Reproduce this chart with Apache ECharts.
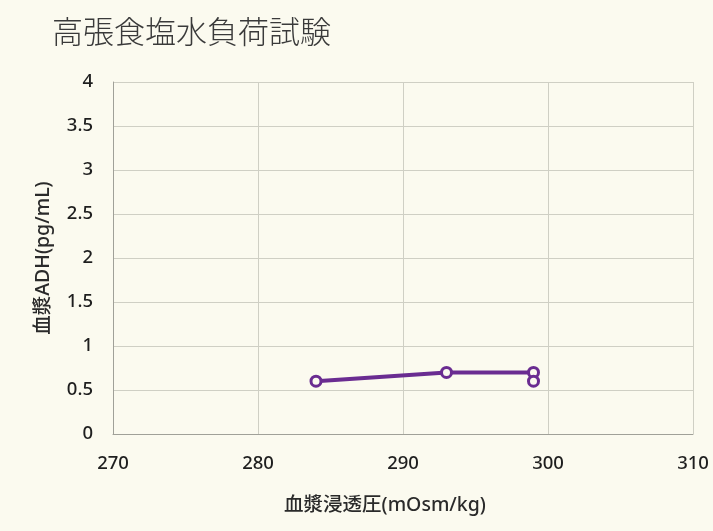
<!DOCTYPE html>
<html><head><meta charset="utf-8">
<script src="https://cdn.jsdelivr.net/npm/echarts@6/dist/echarts.min.js"></script>
<style>html,body{margin:0;padding:0;background:#FBFAEF;}#c{width:713px;height:531px;}</style>
</head><body><div id="c"></div>
<script>
const titleText = '高張食塩水負荷試験';
const xName = '血漿浸透圧(mOsm/kg)';
const yName = '血漿ADH(pg/mL)';
const osmolality = [284, 293, 299, 299];
const adh = [0.6, 0.7, 0.7, 0.6];
const xMin = 270, xMax = 310, xStep = 10;
const yMin = 0, yMax = 4, yStep = 0.5;

const chart = echarts.init(document.getElementById('c'), null, {renderer: 'canvas'});
const fontFam = "'Noto Sans','Noto Sans CJK JP',sans-serif";
chart.setOption({
  backgroundColor: '#FBFAEF',
  animation: false,
  title: {
    text: titleText, left: 47, top: 11,
    textStyle: {fontFamily: "'Noto Sans CJK JP',sans-serif", fontSize: 31, fontWeight: 300, color: '#3a3a3a'}
  },
  grid: {left: 113, right: 20, top: 82, bottom: 97, containLabel: false},
  xAxis: {
    type: 'value', min: xMin, max: xMax, interval: xStep,
    name: xName, nameLocation: 'middle', nameGap: 62,
    nameTextStyle: {fontFamily: fontFam, fontSize: 19.5, color: '#2a2a2a', fontWeight: 500, padding: [0, 36, 0, 0]},
    axisLine: {show: true, lineStyle: {color: '#a0a098', width: 1}},
    axisTick: {show: false},
    axisLabel: {fontFamily: fontFam, fontSize: 18.5, color: '#1e1e1e', fontWeight: 500, margin: 20},
    splitLine: {show: true, lineStyle: {color: '#cfcfc4', width: 1}}
  },
  yAxis: {
    type: 'value', min: yMin, max: yMax, interval: yStep,
    name: yName, nameLocation: 'middle', nameGap: 60, nameRotate: 90,
    nameTextStyle: {fontFamily: fontFam, fontSize: 19.5, color: '#2a2a2a', fontWeight: 500},
    axisLine: {show: true, lineStyle: {color: '#a0a098', width: 1}},
    axisTick: {show: false},
    axisLabel: {fontFamily: fontFam, fontSize: 18.5, color: '#1e1e1e', fontWeight: 500, margin: 20},
    splitLine: {show: true, lineStyle: {color: '#cfcfc4', width: 1}}
  },
  series: [{
    type: 'line',
    data: osmolality.map((x, i) => [x, adh[i]]),
    symbol: 'circle', symbolSize: 10,
    lineStyle: {color: '#6A2C91', width: 4},
    itemStyle: {color: '#FBFAEF', borderColor: '#6A2C91', borderWidth: 3}
  }]
});
</script></body></html>
